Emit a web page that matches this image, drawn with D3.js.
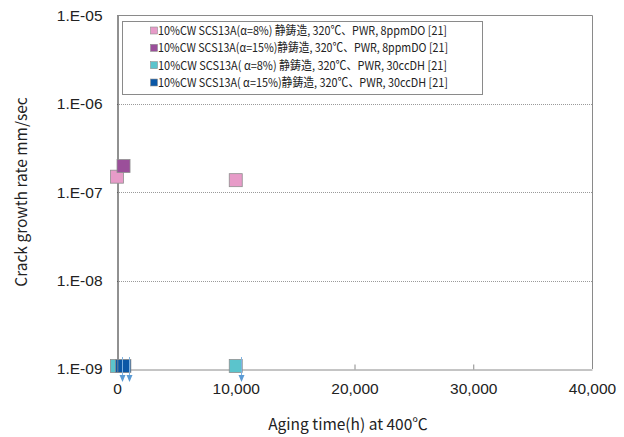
<!DOCTYPE html>
<html>
<head>
<meta charset="utf-8">
<script src="https://cdn.jsdelivr.net/npm/d3@7"></script>
<style>
  body { margin: 0; background: #fff; }
  svg { display: block; font-family: "Noto Sans CJK JP", "Liberation Sans", sans-serif; }
</style>
</head>
<body>
<svg id="chart" width="624" height="437"></svg>
<script>
// series, in legend order
const seriesNames = [
    '10%CW SCS13A(α=8%) 静鋳造, 320℃、PWR, 8ppmDO [21]',
    '10%CW SCS13A(α=15%)静鋳造, 320℃、PWR, 8ppmDO [21]',
    '10%CW SCS13A( α=8%) 静鋳造, 320℃、PWR, 30ccDH [21]',
    '10%CW SCS13A( α=15%)静鋳造, 320℃、PWR, 30ccDH [21]',
];
const seriesColors = ['#e79bc8', '#9b4f9a', '#5bc4cc', '#0c58a6'];

// aging time (h) and crack growth rate (mm/sec)
const pinkHours = [0, 10000];
const pinkRates = [1.5e-7, 1.37e-7];
const purpleHours = [550];
const purpleRates = [1.98e-7];
const tealHours = [0, 10000];
const tealRates = [1.08e-9, 1.08e-9];
const blueHours = [420, 620];
const blueRates = [1.08e-9, 1.08e-9];

// "below detection" arrows hanging off the 1E-09 points
const arrowHours = [400, 1040, 10420];
const arrowRates = [1.08e-9, 1.08e-9, 1.08e-9];

const xTicks = [0, 10000, 20000, 30000, 40000];
const xTickLabels = ['0', '10,000', '20,000', '30,000', '40,000'];
const yTicks = [1e-9, 1e-8, 1e-7, 1e-6, 1e-5];
const yTickLabels = ['1.E-09', '1.E-08', '1.E-07', '1.E-06', '1.E-05'];

let svg = d3.select('#chart');

let plotArea = { left: 117, right: 592, top: 15.5, bottom: 369 };

let x = d3.scaleLinear()
    .domain([0, 40000])
    .range([plotArea.left, plotArea.right]);
let y = d3.scaleLog()
    .domain([1e-9, 1e-5])
    .range([plotArea.bottom, plotArea.top]);

// dotted grid lines
svg.append('g').classed('grid', true)
    .selectAll('line')
    .data(yTicks.slice(1, -1))
    .enter().append('line')
        .attr('x1', plotArea.left)
        .attr('x2', plotArea.right)
        .attr('y1', d => Math.round(y(d)) + 0.5)
        .attr('y2', d => Math.round(y(d)) + 0.5)
        .attr('stroke', '#9a9a9a')
        .attr('stroke-dasharray', '1,1');

// frame (top and right)
svg.append('path')
    .attr('d', `M${plotArea.left},${plotArea.top}H${plotArea.right + 0.5}V${plotArea.bottom}`)
    .attr('fill', 'none')
    .attr('stroke', '#8a8a8a');

// x axis
let xAxis = svg.append('g')
    .attr('transform', `translate(0,${plotArea.bottom + 0.5})`)
    .call(d3.axisBottom(x)
        .tickValues(xTicks)
        .tickFormat((d, i) => xTickLabels[i])
        .tickSizeInner(-5)
        .tickSizeOuter(0)
        .tickPadding(13));
xAxis.select('.domain').attr('stroke', '#8a8a8a');
xAxis.selectAll('.tick line')
    .attr('stroke', '#8a8a8a')
    .attr('display', (d, i) => (i === 0 || i === xTicks.length - 1) ? 'none' : null);
xAxis.selectAll('text')
    .attr('font-size', 15.5)
    .attr('fill', '#222');

// y axis
let yAxis = svg.append('g')
    .attr('transform', `translate(${plotArea.left + 0.5},0)`)
    .call(d3.axisLeft(y)
        .tickValues(yTicks)
        .tickFormat((d, i) => yTickLabels[i])
        .tickSize(0)
        .tickPadding(15));
yAxis.select('.domain').attr('stroke', '#222');
yAxis.selectAll('text')
    .attr('font-size', 15.5)
    .attr('fill', '#222');

// axis titles
svg.append('text')
    .attr('x', 348)
    .attr('y', 430)
    .attr('text-anchor', 'middle')
    .attr('font-size', 15.5)
    .attr('fill', '#222')
    .text('Aging time(h) at 400℃');
svg.append('text')
    .attr('transform', 'translate(27,192) rotate(-90)')
    .attr('text-anchor', 'middle')
    .attr('font-size', 15.5)
    .attr('fill', '#222')
    .text('Crack growth rate mm/sec');

// markers
const allSeries = [
    { hours: pinkHours, rates: pinkRates },
    { hours: purpleHours, rates: purpleRates },
    { hours: tealHours, rates: tealRates },
    { hours: blueHours, rates: blueRates },
];
const markerSize = 13;

let marks = svg.append('g').classed('marks', true);
allSeries.forEach(function(s, si) {
    marks.append('g')
        .selectAll('rect')
        .data(s.hours.map((h, i) => ({ hours: h, rate: s.rates[i] })))
        .enter().append('rect')
            .attr('x', d => x(d.hours) - markerSize / 2)
            .attr('y', d => y(d.rate) - markerSize / 2)
            .attr('width', markerSize)
            .attr('height', markerSize)
            .attr('fill', seriesColors[si])
            .attr('stroke', '#8f8f8f')
            .attr('stroke-width', 0.8);
});

// down arrows
let arrows = svg.append('g').classed('arrows', true)
    .selectAll('g')
    .data(arrowHours.map((h, i) => ({ hours: h, rate: arrowRates[i] })))
    .enter().append('g')
        .attr('transform', d => `translate(${Math.round(x(d.hours)) + 0.5},${y(d.rate)})`);
arrows.append('line')
    .attr('y1', -9)
    .attr('y2', 10)
    .attr('stroke', '#7fb2e0')
    .attr('stroke-width', 1);
arrows.append('path')
    .attr('d', 'M-3,9L3,9L0,16Z')
    .attr('fill', '#5b9bd5');

// legend
let legend = svg.append('g').classed('legend', true);
legend.append('rect')
    .attr('x', 122.5)
    .attr('y', 21.5)
    .attr('width', 360)
    .attr('height', 73)
    .attr('fill', '#fff')
    .attr('stroke', '#8a8a8a');

const legendRowY = d3.scaleLinear().domain([0, 3]).range([30.5, 82.5]);
let rows = legend.selectAll('g.row')
    .data(seriesNames)
    .enter().append('g')
        .attr('class', 'row')
        .attr('transform', (d, i) => `translate(0,${legendRowY(i)})`);
rows.append('rect')
    .attr('x', 150.5)
    .attr('y', -3.5)
    .attr('width', 7)
    .attr('height', 7)
    .attr('fill', (d, i) => seriesColors[i])
    .attr('stroke', '#8f8f8f')
    .attr('stroke-width', 0.6);
rows.append('text')
    .attr('x', 158)
    .attr('y', 4.5)
    .attr('font-size', 12)
    .attr('fill', '#222')
    .attr('textLength', (d, i) => i % 2 ? 290 : 289)
    .attr('lengthAdjust', 'spacingAndGlyphs')
    .text(d => d);
</script>
</body>
</html>
